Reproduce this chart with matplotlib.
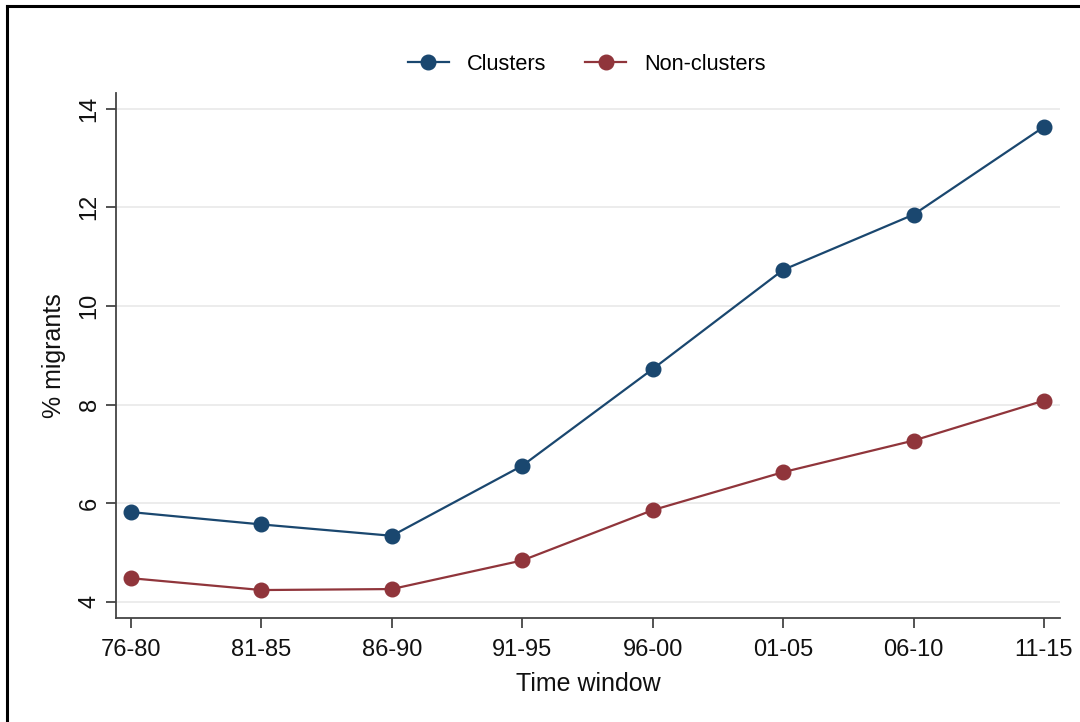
import matplotlib
matplotlib.use("Agg")
import matplotlib.pyplot as plt
from matplotlib.lines import Line2D

categories = ["76-80", "81-85", "86-90", "91-95", "96-00", "01-05", "06-10", "11-15"]
clusters = [5.82, 5.57, 5.34, 6.76, 8.72, 10.73, 11.85, 13.63]
non_clusters = [4.48, 4.24, 4.26, 4.84, 5.86, 6.63, 7.27, 8.08]
yticks = [4, 6, 8, 10, 12, 14]

plt.rcParams['font.family'] = ['Liberation Sans', 'DejaVu Sans']

fig = plt.figure(figsize=(10.8, 7.22), dpi=100)
ax = fig.add_axes([0.1074, 0.1445, 0.8741, 0.7263])

x = list(range(len(categories)))
ax.plot(x, clusters, color="#1a476f", lw=1.6, marker="o", markersize=10.5, label="Clusters", zorder=3)
ax.plot(x, non_clusters, color="#90353b", lw=1.6, marker="o", markersize=10.5, label="Non-clusters", zorder=3)

ax.set_xlim(-0.115, 7.123)
ax.set_ylim(3.68, 14.31)
ax.set_xticks(x)
ax.set_xticklabels(categories, fontsize=17)
ax.set_yticks(yticks)
ax.set_yticklabels([str(v) for v in yticks], fontsize=17, rotation=90, va="center")
ax.yaxis.grid(True, color="#eaeaea", lw=1.3)
ax.set_axisbelow(True)
for s in ["top", "right"]:
    ax.spines[s].set_visible(False)
for s in ["left", "bottom"]:
    ax.spines[s].set_color("#444444")
    ax.spines[s].set_linewidth(1.3)
ax.tick_params(axis="both", length=7, width=1.3, color="#444444", labelcolor="#111111")
ax.tick_params(axis="x", pad=8)
ax.tick_params(axis="y", pad=4)

ax.set_xlabel("Time window", fontsize=18, color="#111111", labelpad=8)
ax.set_ylabel("% migrants", fontsize=18, color="#111111", labelpad=9)

fig.legend(loc="center", bbox_to_anchor=(0.543, 0.911), ncol=2, frameon=False,
           fontsize=15.7, handlelength=1.9, columnspacing=1.8, handletextpad=0.8)

# outer frame (left and top visible)
fig.add_artist(Line2D([0.0065, 0.0065], [0, 0.992], transform=fig.transFigure, color="black", lw=2.2))
fig.add_artist(Line2D([0.0065, 1.0], [0.992, 0.992], transform=fig.transFigure, color="black", lw=2.2))

fig.savefig("out.png", dpi=100)
